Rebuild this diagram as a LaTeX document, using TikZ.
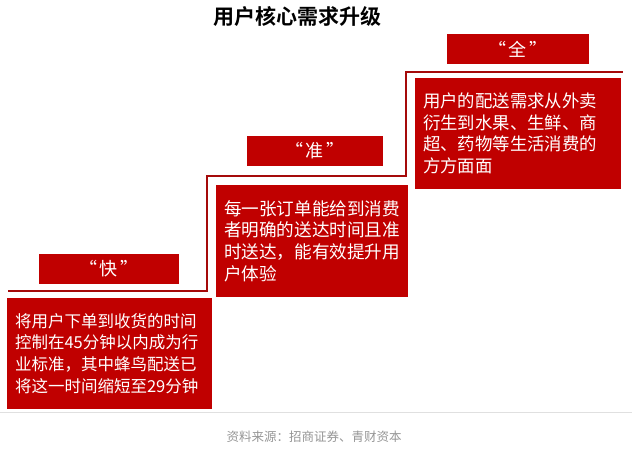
\documentclass[tikz,border=0pt]{standalone}
\usepackage{fontspec}
\setmainfont{Noto Sans CJK SC}[BoldFont={Noto Sans CJK SC Bold}]
\definecolor{boxred}{RGB}{192,0,0}
\definecolor{linered}{RGB}{165,10,10}
\definecolor{srcgray}{RGB}{150,150,150}
\begin{document}
\begin{tikzpicture}[x=1pt,y=-1pt,
  redbox/.style={fill=boxred, draw=none, text=white, inner sep=0pt, align=left},
  labelbox/.style={fill=boxred, draw=none, text=white, inner sep=0pt, minimum height=30pt, font=\fontsize{18}{20}\selectfont},
  stair/.style={draw=linered, line width=2.6pt, line join=miter},
  bodyfont/.style={font=\fontsize{#1}{21.7}\selectfont}
]
\fill[white] (0,0) rectangle (632,453);
\useasboundingbox (0,0) rectangle (632,453);

\node[font=\bfseries\fontsize{21}{24}\selectfont] (title) at (297,16) {用户核心需求升级};

% staircase
\coordinate (s0) at (8,291);
\coordinate (s1) at (207,291);
\coordinate (s2) at (207,176);
\coordinate (s3) at (406,176);
\coordinate (s4) at (406,72);
\coordinate (s5) at (623,72);
\draw[stair] (s0) -- (s1) -- (s2) -- (s3) -- (s4) -- (s5);

% labels
\node[labelbox, minimum width=142pt] (lquan) at (518,49) {“\,全\,”};
\node[labelbox, minimum width=136pt] (lzhun) at (315,151) {“\,准\,”};
\node[labelbox, minimum width=140pt] (lkuai) at (109,269) {“\,快\,”};

% content boxes
\node[redbox, bodyfont=17.4, minimum width=206pt, minimum height=111pt, text width=190pt] (bquan) at (518,133.5)
  {用户的配送需求从外卖\\衍生到水果、生鲜、商\\超、药物等生活消费的\\方方面面};
\node[redbox, bodyfont=17.6, minimum width=192pt, minimum height=112pt, text width=176pt] (bzhun) at (312,241)
  {每一张订单能给到消费\\者明确的送达时间且准\\时送达，能有效提升用\\户体验};
\node[redbox, bodyfont=16.5, minimum width=205pt, minimum height=111pt, text width=189pt] (bkuai) at (109.5,353.5)
  {将用户下单到收货的时间\\控制在45分钟以内成为行\\业标准，其中蜂鸟配送已\\将这一时间缩短至29分钟};

% separator and source
\coordinate (sepL) at (0,412);
\coordinate (sepR) at (632,412);
\draw[black!12, line width=0.8pt] (sepL) -- (sepR);
\node[text=srcgray, font=\fontsize{12.5}{15}\selectfont] (src) at (314,437) {资料来源：招商证券、青财资本};
\end{tikzpicture}
\end{document}
